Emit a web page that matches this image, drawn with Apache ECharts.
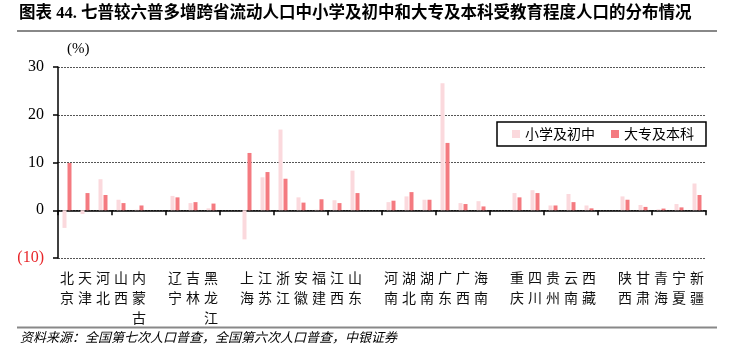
<!DOCTYPE html>
<html>
<head>
<meta charset="utf-8">
<script src="https://cdn.jsdelivr.net/npm/echarts@6/dist/echarts.min.js"></script>
<style>
  html, body { margin: 0; padding: 0; background: #fff; }
  #chart { width: 742px; height: 352px; }
</style>
</head>
<body>
<div id="chart"></div>
<script>
// '' entries are the empty slots between regions
const categories = ['北京', '天津', '河北', '山西', '内蒙古', '',
  '辽宁', '吉林', '黑龙江', '',
  '上海', '江苏', '浙江', '安徽', '福建', '江西', '山东', '',
  '河南', '湖北', '湖南', '广东', '广西', '海南', '',
  '重庆', '四川', '贵州', '云南', '西藏', '',
  '陕西', '甘肃', '青海', '宁夏', '新疆']

const primaryJunior = [-3.7, -0.8, 6.5, 2.2, 0.1, null,
  3.0, 1.5, 0.4, null,
  -6.1, 6.9, 16.9, 2.7, 0.1, 2.1, 8.3, null,
  1.7, 2.9, 2.2, 26.6, 1.5, 1.9, null,
  3.6, 4.2, 1.0, 3.4, 1.0, null,
  2.9, 1.1, 0.2, 1.3, 5.6]

const collegeBachelor = [9.9, 3.6, 3.2, 1.5, 1.0, null,
  2.7, 1.7, 1.4, null,
  12.0, 8.0, 6.6, 1.6, 2.3, 1.5, 3.6, null,
  2.0, 3.8, 2.2, 14.1, 1.3, 0.8, null,
  2.7, 3.6, 1.0, 1.7, 0.4, null,
  2.2, 0.7, 0.35, 0.6, 3.2]

const seriesNames = ['小学及初中', '大专及本科']
const yTicks = { min: -10, max: 30, interval: 10 }

const cjk = '"Noto Sans CJK SC", sans-serif'
const serif = '"Liberation Serif", "Noto Sans CJK SC", serif'

const chart = echarts.init(document.getElementById('chart'), null, { renderer: 'canvas' })

chart.setOption({
  animation: false,
  color: ['#fbd9dd', '#f47a80'],
  grid: { left: 58, right: 36, top: 67, bottom: 94 },
  legend: {
    data: seriesNames,
    left: 497,
    top: 122,
    orient: 'horizontal',
    itemWidth: 8,
    itemHeight: 8,
    itemGap: 16,
    padding: [5, 12, 5, 15],
    borderColor: '#000',
    borderWidth: 1.5,
    icon: 'rect',
    textStyle: { fontFamily: cjk, fontSize: 14, color: '#000' }
  },
  xAxis: [
    {
      type: 'category',
      data: categories,
      axisLine: { onZero: true, lineStyle: { color: '#000', width: 1.5 } },
      axisTick: { show: true, length: 5, lineStyle: { color: '#000', width: 1.5 } },
      axisLabel: { show: false }
    },
    {
      type: 'category',
      data: categories,
      position: 'bottom',
      axisLine: { show: false, onZero: false },
      axisTick: { show: false },
      axisLabel: {
        interval: 0,
        margin: 10,
        fontFamily: cjk,
        fontSize: 14,
        lineHeight: 20,
        color: '#111',
        verticalAlign: 'top',
        formatter: v => v.split('').join('\n')
      }
    }
  ],
  yAxis: {
    type: 'value',
    min: yTicks.min,
    max: yTicks.max,
    interval: yTicks.interval,
    axisLine: { show: true, lineStyle: { color: '#000', width: 1.5 } },
    axisTick: { show: true, length: 5, lineStyle: { color: '#000', width: 1.5 } },
    axisLabel: {
      margin: 14,
      fontFamily: serif,
      fontSize: 16,
      color: '#000',
      formatter: v => v < 0 ? '{neg|(' + Math.abs(v) + ')}' : String(v),
      rich: { neg: { color: '#e8262a', fontFamily: serif, fontSize: 16 } }
    },
    splitLine: {
      show: true,
      lineStyle: { color: '#555', type: [2, 1], width: 1 }
    }
  },
  series: [
    {
      name: seriesNames[0],
      type: 'bar',
      data: primaryJunior,
      barWidth: 4,
      barGap: '25%'
    },
    {
      name: seriesNames[1],
      type: 'bar',
      data: collegeBachelor,
      barWidth: 4,
      barGap: '25%'
    }
  ],
  graphic: [
    {
      type: 'text', left: 19, top: 5,
      style: {
        text: '图表 44. 七普较六普多增跨省流动人口中小学及初中和大专及本科受教育程度人口的分布情况',
        font: 'bold 16.5px ' + serif, fill: '#000'
      }
    },
    {
      type: 'line',
      shape: { x1: 17, y1: 31, x2: 717, y2: 31 },
      style: { stroke: '#888', lineWidth: 2 }
    },
    {
      type: 'text', left: 67, top: 42,
      style: { text: '(%)', font: '15px ' + serif, fill: '#000' }
    },
    {
      type: 'line',
      shape: { x1: 17, y1: 327.5, x2: 717, y2: 327.5 },
      style: { stroke: '#888', lineWidth: 2 }
    },
    {
      type: 'text', left: 20, top: 331,
      style: {
        text: '资料来源：全国第七次人口普查，全国第六次人口普查，中银证券',
        font: 'italic 13px ' + cjk, fill: '#000'
      }
    }
  ]
})
</script>
</body>
</html>
